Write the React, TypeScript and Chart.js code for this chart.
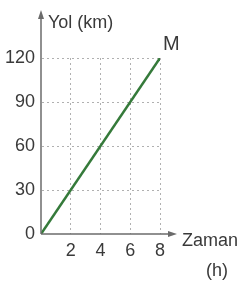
import React, { useEffect, useRef } from "react";
import { Chart, registerables } from "chart.js";

Chart.register(...registerables);

const timeValues = [0, 8];
const distanceValues = [0, 120];
const xTicks = [2, 4, 6, 8];
const yTicks = [0, 30, 60, 90, 120];
const yTitle = "Yol (km)";
const xTitle = "Zaman";
const xUnit = "(h)";
const pointLabel = "M";

const FONT = '"Liberation Sans", Arial, sans-serif';
const TEXT = "#3a3a3a";
const AXIS = "#6b6b6b";

const extrasPlugin = {
  id: "extras",
  afterDraw(chart: any) {
    const { ctx } = chart;
    const xs = chart.scales.x;
    const ys = chart.scales.y;
    const x0 = xs.getPixelForValue(0);
    const y0 = ys.getPixelForValue(0);
    ctx.save();
    ctx.strokeStyle = AXIS;
    ctx.fillStyle = AXIS;
    ctx.lineWidth = 1.5;
    ctx.beginPath();
    ctx.moveTo(x0, y0);
    ctx.lineTo(x0, 14);
    ctx.stroke();
    ctx.beginPath();
    ctx.moveTo(x0, 10);
    ctx.lineTo(x0 - 3, 19);
    ctx.lineTo(x0 + 3, 19);
    ctx.closePath();
    ctx.fill();
    ctx.beginPath();
    ctx.moveTo(x0, y0);
    ctx.lineTo(172, y0);
    ctx.stroke();
    ctx.beginPath();
    ctx.moveTo(177, y0);
    ctx.lineTo(168, y0 - 3);
    ctx.lineTo(168, y0 + 3);
    ctx.closePath();
    ctx.fill();
    ctx.fillStyle = TEXT;
    ctx.font = `18px ${FONT}`;
    ctx.textBaseline = "middle";
    ctx.textAlign = "left";
    ctx.fillText(yTitle, x0 + 7, 23);
    ctx.fillText(xTitle, 182, y0 + 7);
    ctx.textAlign = "center";
    ctx.fillText(xUnit, 217, y0 + 37);
    const mx = xs.getPixelForValue(timeValues[timeValues.length - 1]);
    const my = ys.getPixelForValue(distanceValues[distanceValues.length - 1]);
    ctx.textAlign = "left";
    ctx.font = `20px ${FONT}`;
    ctx.fillText(pointLabel, mx + 3, my - 14);
    ctx.restore();
  },
};

export default function App() {
  const ref = useRef<HTMLCanvasElement>(null);
  useEffect(() => {
    if (!ref.current) return;
    const gridColor = (c: any) => (c.tick && c.tick.value === 0 ? "rgba(0,0,0,0)" : "#b0b0b0");
    const chart = new Chart(ref.current, {
      type: "line",
      data: {
        datasets: [
          {
            data: timeValues.map((t, i) => ({ x: t, y: distanceValues[i] })),
            borderColor: "#357a3a",
            borderWidth: 2.5,
            pointRadius: 0,
            fill: false,
          },
        ],
      },
      options: {
        animation: false,
        responsive: false,
        events: [],
        layout: { padding: { left: 0, top: 58, right: 81, bottom: 0 } },
        plugins: { legend: { display: false }, tooltip: { enabled: false } },
        scales: {
          x: {
            type: "linear",
            min: 0,
            max: 8,
            afterFit(scale: any) {
              scale.height = 54;
            },
            afterBuildTicks(scale: any) {
              scale.ticks = [0, ...xTicks].map((v) => ({ value: v }));
            },
            ticks: {
              callback: (v: any) => (v === 0 ? "" : String(v)),
              color: TEXT,
              font: { family: FONT, size: 18 },
              padding: 6,
              maxRotation: 0,
              autoSkip: false,
            },
            grid: { color: gridColor, lineWidth: 1, drawTicks: false },
            border: { display: true, color: "rgba(0,0,0,0)", dash: [2, 3] },
          },
          y: {
            type: "linear",
            min: 0,
            max: 120,
            afterFit(scale: any) {
              scale.width = 41;
            },
            afterBuildTicks(scale: any) {
              scale.ticks = yTicks.map((v) => ({ value: v }));
            },
            ticks: {
              color: TEXT,
              font: { family: FONT, size: 18 },
              padding: 6,
              autoSkip: false,
            },
            grid: { color: gridColor, lineWidth: 1, drawTicks: false },
            border: { display: true, color: "rgba(0,0,0,0)", dash: [2, 3] },
          },
        },
      },
      plugins: [extrasPlugin],
    } as any);
    return () => chart.destroy();
  }, []);
  return (
    <div style={{ position: "fixed", left: 0, top: 0, width: 241, height: 288, background: "#fff" }}>
      <canvas ref={ref} width={241} height={288} style={{ width: 241, height: 288, display: "block" }} />
    </div>
  );
}
